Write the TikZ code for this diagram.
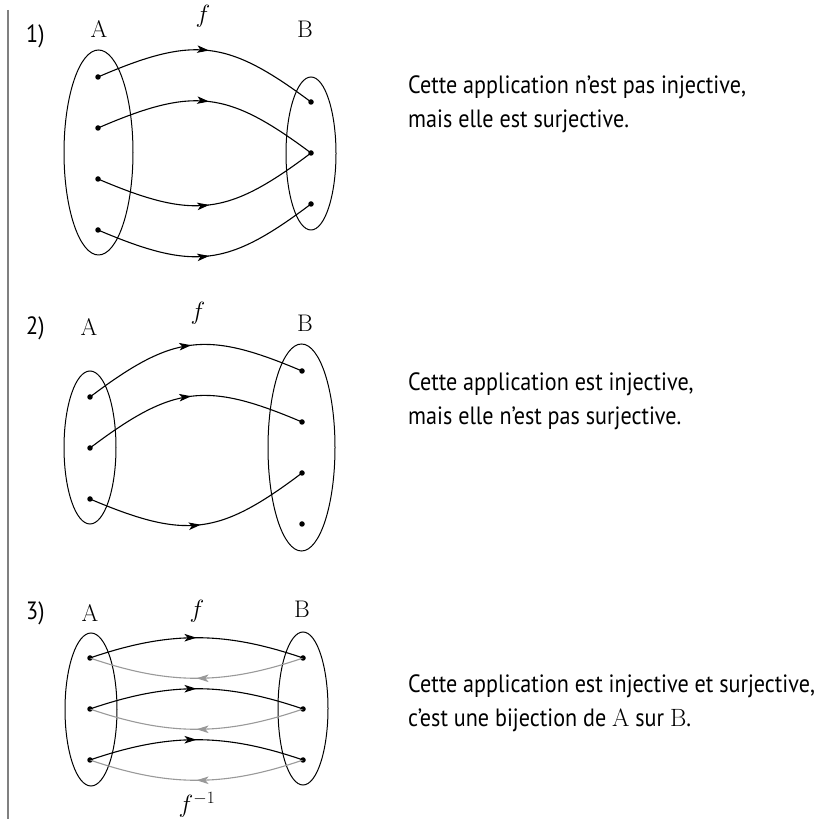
\documentclass[tikz,border=0pt]{standalone}
\usepackage{fontspec}
\usepackage{amsmath}
\usetikzlibrary{arrows.meta,decorations.markings}
\newfontfamily\legende{PT Sans}[FakeStretch=0.885]

\tikzset{
  ens/.style={draw, line width=1pt},
  pt/.style={circle, fill, inner sep=0pt, minimum size=5.5pt},
  fleche/.style={line width=1.1pt, postaction={decorate},
    decoration={markings, mark=at position 0.5 with {\arrow{Stealth[length=12pt,width=7.5pt,inset=3pt]}}}},
  retour/.style={fleche, color=black!40},
  num/.style={anchor=base west, inner sep=0pt, font=\legende\fontsize{25}{30}\selectfont},
  lab/.style={anchor=base, inner sep=0pt, font=\fontsize{24}{28}\selectfont},
  txt/.style={anchor=base west, inner sep=0pt, font=\legende\fontsize{25}{30}\selectfont}
}

\begin{document}
\begin{tikzpicture}[x=1pt,y=1pt]
\useasboundingbox (0,0) rectangle (817,819);
% trait vertical a gauche
\draw[line width=2pt, black!50] (8,809) -- (8,0);

% ---- 1) pas injective, surjective
\node[num] (n1) at (26,776) {1)};
\node[lab] (A1) at (99,781) {$\mathrm{A}$};
\node[lab] (f1) at (203,796) {$f$};
\node[lab] (B1) at (305,781) {$\mathrm{B}$};
\draw[ens] (98.5,666.5) ellipse [x radius=34.5, y radius=102.5]; % ensemble A
\draw[ens] (311,665.5) ellipse [x radius=25, y radius=76.5]; % ensemble B
\node[pt] (a11) at (98,742) {};
\node[pt] (a12) at (98,691) {};
\node[pt] (a13) at (98,640) {};
\node[pt] (a14) at (98,589) {};
\node[pt] (b11) at (311,717) {};
\node[pt] (b12) at (311,666) {};
\node[pt] (b13) at (311,615) {};
\draw[fleche] (a11.center) to[bend left=30, looseness=1.25] (b11.center);
\draw[fleche] (a12.center) to[bend left=30, looseness=1.25] (b12.center);
\draw[fleche] (a13.center) to[bend right=30, looseness=1.25] (b12.center);
\draw[fleche] (a14.center) to[bend right=30, looseness=1.25] (b13.center);
\node[txt] (t11) at (408,725) {Cette application n’est pas injective,};
\node[txt] (t12) at (408,691) {mais elle est surjective.};

% ---- 2) injective, pas surjective
\node[num] (n2) at (26,484) {2)};
\node[lab] (A2) at (89,483) {$\mathrm{A}$};
\node[lab] (f2) at (198,499) {$f$};
\node[lab] (B2) at (305,487) {$\mathrm{B}$};
\draw[ens] (90,371.5) ellipse [x radius=26, y radius=76.5]; % ensemble A
\draw[ens] (301.5,371.5) ellipse [x radius=33.5, y radius=103.5]; % ensemble B
\node[pt] (a21) at (90,422) {};
\node[pt] (a22) at (90,371) {};
\node[pt] (a23) at (90,320) {};
\node[pt] (b21) at (302,448) {};
\node[pt] (b22) at (302,397) {};
\node[pt] (b23) at (302,346) {};
\node[pt] (b24) at (302,295) {};
\draw[fleche] (a21.center) to[bend left=30, looseness=1.25] (b21.center);
\draw[fleche] (a22.center) to[bend left=30, looseness=1.25] (b22.center);
\draw[fleche] (a23.center) to[bend right=30, looseness=1.25] (b23.center);
\node[txt] (t21) at (408,428) {Cette application est injective,};
\node[txt] (t22) at (408,394) {mais elle n’est pas surjective.};

% ---- 3) bijection
\node[num] (n3) at (26,199) {3)};
\node[lab] (A3) at (90,197) {$\mathrm{A}$};
\node[lab] (f3) at (197,201) {$f$};
\node[lab] (B3) at (302,201) {$\mathrm{B}$};
\draw[ens] (91,109.5) ellipse [x radius=26, y radius=76.5]; % ensemble A
\draw[ens] (303,110.5) ellipse [x radius=25, y radius=76.5]; % ensemble B
\node[pt] (a31) at (90,161) {};
\node[pt] (a32) at (90,110) {};
\node[pt] (a33) at (90,59) {};
\node[pt] (b31) at (303,161) {};
\node[pt] (b32) at (303,110) {};
\node[pt] (b33) at (303,59) {};
% f^{-1} en gris
\draw[retour] (b31.center) to[bend left=19] (a31.center);
\draw[retour] (b32.center) to[bend left=19] (a32.center);
\draw[retour] (b33.center) to[bend left=19] (a33.center);
% f en noir
\draw[fleche] (a31.center) to[bend left=19] (b31.center);
\draw[fleche] (a32.center) to[bend left=19] (b32.center);
\draw[fleche] (a33.center) to[bend left=19] (b33.center);
\node[lab] (g3) at (197,6) {$f^{-1}$};
\node[txt] (t31) at (408,126) {Cette application est injective et surjective,};
\node[txt] (t32) at (408,92) {c’est une bijection de $\mathrm{A}$ sur $\mathrm{B}$.};
\end{tikzpicture}
\end{document}
